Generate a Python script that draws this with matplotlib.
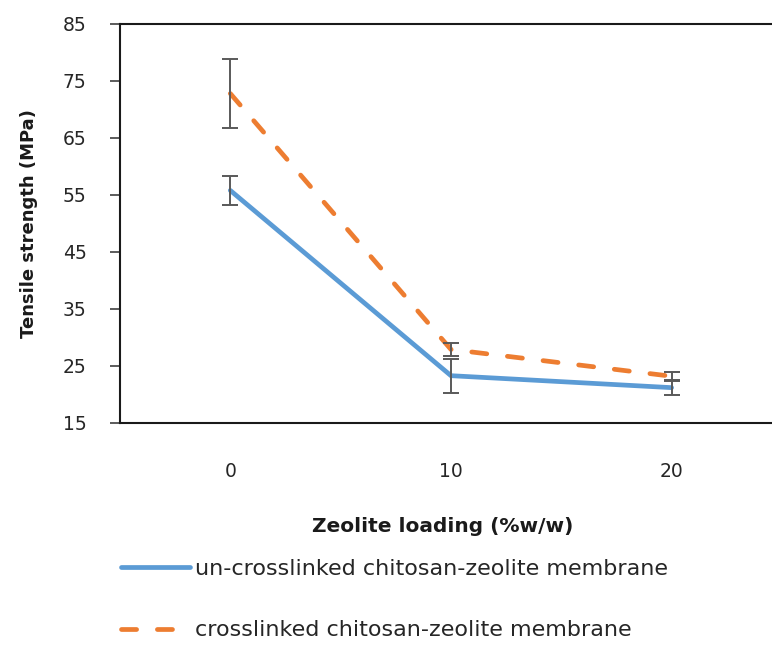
import matplotlib.pyplot as plt

plt.rcParams['font.family'] = ['DejaVu Sans']

# zeolite loading (%w/w) and tensile strength (MPa)
loading = ["0", "10", "20"]
uncrosslinked = [55.8, 23.3, 21.2]
uncrosslinked_err = [2.5, 3.0, 1.3]
crosslinked = [72.8, 27.9, 23.2]
crosslinked_err = [6.0, 1.2, 0.8]

BLUE = "#5b9bd5"
ORANGE = "#ed7d31"
GREY = "#595959"

fig = plt.figure(figsize=(7.72, 6.45), dpi=100)
ax = fig.add_axes([0.1554, 0.3442, 0.8575, 0.6186])

xs = range(len(loading))
ax.plot(xs, uncrosslinked, color=BLUE, lw=3.4, solid_capstyle="round",
        label="un-crosslinked chitosan-zeolite membrane", zorder=3)
ax.plot(xs, crosslinked, color=ORANGE, lw=3.4, dashes=(3.2, 4.4),
        dash_capstyle="round",
        label="crosslinked chitosan-zeolite membrane", zorder=3)
ax.errorbar(xs, uncrosslinked, yerr=uncrosslinked_err, fmt="none",
            ecolor=GREY, elinewidth=1.4, capsize=6, capthick=1.4, zorder=4)
ax.errorbar(xs, crosslinked, yerr=crosslinked_err, fmt="none",
            ecolor=GREY, elinewidth=1.4, capsize=6, capthick=1.4, zorder=4)

ax.set_xlim(-0.5, 2.5)
ax.set_ylim(15, 85)
ax.set_yticks(range(15, 86, 10))
ax.set_xticks(list(xs))
ax.set_xticklabels(loading)

for s in ["left", "bottom", "top"]:
    ax.spines[s].set_linewidth(1.5)
    ax.spines[s].set_color("#1a1a1a")
ax.spines["right"].set_visible(False)

ax.tick_params(axis="y", direction="out", length=7, width=1.2, color="#404040",
               labelsize=13.5, labelcolor="#262626", pad=17)
ax.tick_params(axis="x", length=0, labelsize=13.5, labelcolor="#262626", pad=28)

ax.set_ylabel("Tensile strength (MPa)", fontsize=13, fontweight="bold",
              color="#1a1a1a", labelpad=18)
fig.text(0.574, 0.183, "Zeolite loading (%w/w)", fontsize=14.5,
         fontweight="bold", color="#1a1a1a", ha="center", va="center")

fig.legend(loc="upper left", bbox_to_anchor=(0.131, 0.164),
           frameon=False, fontsize=16, handlelength=3.1, handletextpad=0.22,
           labelspacing=1.85, labelcolor="#262626")

fig.savefig("out.png", dpi=100)
